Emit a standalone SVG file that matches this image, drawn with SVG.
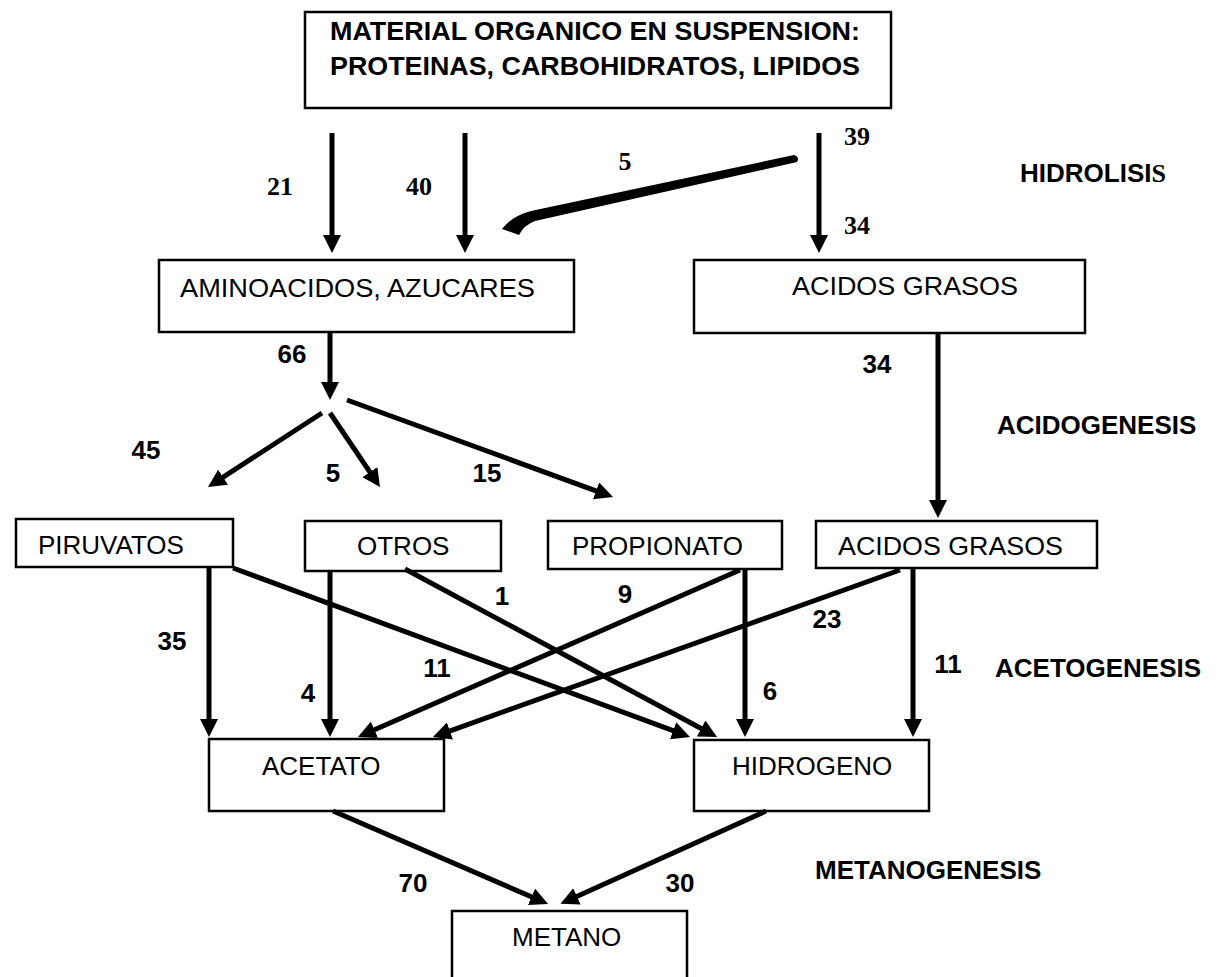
<svg xmlns="http://www.w3.org/2000/svg" width="1223" height="977" viewBox="0 0 1223 977">
<defs>
<style>
.box{fill:#fff;stroke:#000;stroke-width:2.5}
.t{font-family:"Liberation Sans",Arial,sans-serif;font-size:26px;fill:#000}
.tb{font-family:"Liberation Sans",Arial,sans-serif;font-size:26px;font-weight:bold;fill:#000}
.ts{font-family:"Liberation Serif","Times New Roman",serif;font-size:26px;font-weight:bold;fill:#000}
.c{stroke:#000;stroke-width:5;fill:none;marker-end:url(#ah)}
</style>
<marker id="ah" viewBox="0 0 18 18" refX="10" refY="9" markerWidth="18" markerHeight="18" markerUnits="userSpaceOnUse" orient="auto">
<path d="M0,0 L18,9 L0,18 Z" fill="#000"/>
</marker>
</defs>
<rect width="1223" height="977" fill="#fff"/>

<g id="material">
<rect class="box" x="305" y="12" width="586" height="96"/>
<text class="tb" x="330" y="40" textLength="530" lengthAdjust="spacingAndGlyphs">MATERIAL ORGANICO EN SUSPENSION:</text>
<text class="tb" x="330" y="75" textLength="530" lengthAdjust="spacingAndGlyphs">PROTEINAS, CARBOHIDRATOS, LIPIDOS</text>
</g>
<g id="aminoacidos">
<rect class="box" x="159" y="260" width="415" height="72"/>
<text class="t" x="180" y="297" textLength="355" lengthAdjust="spacingAndGlyphs">AMINOACIDOS, AZUCARES</text>
</g>
<g id="acidos1">
<rect class="box" x="694" y="260" width="391" height="73"/>
<text class="t" x="792" y="295" textLength="226" lengthAdjust="spacingAndGlyphs">ACIDOS GRASOS</text>
</g>
<g id="piruvatos">
<rect class="box" x="16" y="519" width="217" height="48"/>
<text class="t" x="38" y="554">PIRUVATOS</text>
</g>
<g id="otros">
<rect class="box" x="305" y="521" width="196" height="50"/>
<text class="t" x="357" y="555">OTROS</text>
</g>
<g id="propionato">
<rect class="box" x="548" y="521" width="234" height="48"/>
<text class="t" x="572" y="555">PROPIONATO</text>
</g>
<g id="acidos2">
<rect class="box" x="816" y="521" width="281" height="47"/>
<text class="t" x="838" y="555" textLength="225" lengthAdjust="spacingAndGlyphs">ACIDOS GRASOS</text>
</g>
<g id="acetato">
<rect class="box" x="209" y="739" width="235" height="72"/>
<text class="t" x="262" y="775">ACETATO</text>
</g>
<g id="hidrogeno">
<rect class="box" x="694" y="740" width="235" height="71"/>
<text class="t" x="732" y="775">HIDROGENO</text>
</g>
<g id="metano">
<rect class="box" x="452" y="911" width="235" height="80"/>
<text class="t" x="512" y="946">METANO</text>
</g>

<g id="connectors">
<line class="c" x1="332" y1="133" x2="332" y2="245"/>
<line class="c" x1="465" y1="133" x2="465" y2="245"/>
<line class="c" x1="819" y1="133" x2="819" y2="245"/>
<path d="M794,155 L531,211 Q512,216 502,229 L519,235 Q524,225 535,221 L797,162 Q800,157 794,155 Z" fill="#000"/>
<line class="c" x1="330" y1="332" x2="330" y2="392"/>
<line class="c" x1="322" y1="413" x2="214.7" y2="482.6"/>
<line class="c" x1="330" y1="413" x2="375.5" y2="480.4"/>
<line class="c" x1="347" y1="400" x2="605.5" y2="494.3"/>
<line class="c" x1="938" y1="333" x2="938" y2="510"/>
<line class="c" x1="209" y1="567" x2="209" y2="729"/>
<line class="c" x1="233" y1="568" x2="682.5" y2="734.2"/>
<line class="c" x1="330" y1="571" x2="330" y2="729"/>
<line class="c" x1="405" y1="569" x2="710" y2="733.2"/>
<line class="c" x1="740" y1="570" x2="365.3" y2="733.8"/>
<line class="c" x1="745" y1="569" x2="745" y2="729"/>
<line class="c" x1="900" y1="570" x2="440.5" y2="734.3"/>
<line class="c" x1="913" y1="568" x2="913" y2="729"/>
<line class="c" x1="333" y1="811" x2="540.7" y2="900.8"/>
<line class="c" x1="766" y1="811" x2="567.8" y2="900.5"/>
</g>

<g id="labels">
<text class="ts" x="280" y="195" text-anchor="middle">21</text>
<text class="ts" x="419" y="195" text-anchor="middle">40</text>
<text class="ts" x="625" y="170" text-anchor="middle">5</text>
<text class="ts" x="857" y="145" text-anchor="middle">39</text>
<text class="ts" x="857" y="234" text-anchor="middle">34</text>
<text class="tb" x="1020" y="182">HIDROLISI<tspan style="font-family:'Liberation Serif','Times New Roman',serif">S</tspan></text>
<text class="tb" x="292" y="363" text-anchor="middle">66</text>
<text class="tb" x="877" y="373" text-anchor="middle">34</text>
<text class="tb" x="997" y="434">ACIDOGENESIS</text>
<text class="tb" x="146" y="459" text-anchor="middle">45</text>
<text class="tb" x="333" y="482" text-anchor="middle">5</text>
<text class="tb" x="487" y="482" text-anchor="middle">15</text>
<text class="tb" x="502" y="605" text-anchor="middle">1</text>
<text class="tb" x="625" y="603" text-anchor="middle">9</text>
<text class="tb" x="827" y="628" text-anchor="middle">23</text>
<text class="tb" x="172" y="650" text-anchor="middle">35</text>
<text class="tb" x="437" y="677" text-anchor="middle">11</text>
<text class="tb" x="308" y="702" text-anchor="middle">4</text>
<text class="tb" x="770" y="700" text-anchor="middle">6</text>
<text class="tb" x="948" y="673" text-anchor="middle">11</text>
<text class="tb" x="995" y="677">ACETOGENESIS</text>
<text class="tb" x="413" y="892" text-anchor="middle">70</text>
<text class="tb" x="680" y="892" text-anchor="middle">30</text>
<text class="tb" x="815" y="879">METANOGENESIS</text>
</g>
</svg>
